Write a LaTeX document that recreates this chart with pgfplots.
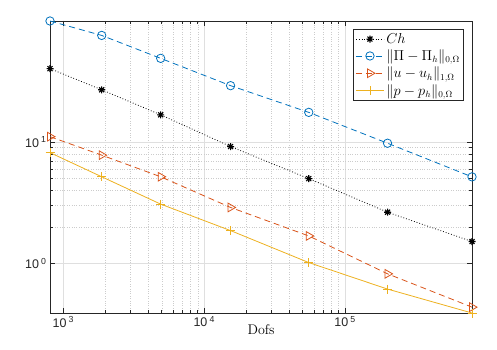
\documentclass[border=0pt]{standalone}
\usepackage{fontspec}
\usepackage{pgfplots}
\pgfplotsset{compat=1.18}
\newfontfamily\arial{Liberation Sans}

\definecolor{mblue}{rgb}{0,0.447,0.741}
\definecolor{mred}{rgb}{0.85,0.325,0.098}
\definecolor{myellow}{rgb}{0.929,0.694,0.125}
\definecolor{maxis}{rgb}{0.15,0.15,0.15}

% MATLAB-like '*' marker (plus and cross)
\pgfdeclareplotmark{mstar}{%
  \pgfpathmoveto{\pgfqpoint{-\pgfplotmarksize}{0pt}}\pgfpathlineto{\pgfqpoint{\pgfplotmarksize}{0pt}}%
  \pgfpathmoveto{\pgfqpoint{0pt}{-\pgfplotmarksize}}\pgfpathlineto{\pgfqpoint{0pt}{\pgfplotmarksize}}%
  \pgfpathmoveto{\pgfqpoint{-.707\pgfplotmarksize}{-.707\pgfplotmarksize}}\pgfpathlineto{\pgfqpoint{.707\pgfplotmarksize}{.707\pgfplotmarksize}}%
  \pgfpathmoveto{\pgfqpoint{-.707\pgfplotmarksize}{.707\pgfplotmarksize}}\pgfpathlineto{\pgfqpoint{.707\pgfplotmarksize}{-.707\pgfplotmarksize}}%
  \pgfusepathqstroke}

\begin{document}
\begin{tikzpicture}
\path[use as bounding box] (-50pt,-36pt) rectangle (447pt,313pt);
\begin{axis}[
    scale only axis,
    width=422pt, height=292pt,
    xmode=log, ymode=log,
    xmin=805, xmax=7.95e5,
    ymin=0.392, ymax=99.5,
    xtick={1000,10000,100000},
    xticklabels={{\arial 10\,\textsuperscript{3}},{\arial 10\,\textsuperscript{4}},{\arial 10\,\textsuperscript{5}}},
    ytick={1,10},
    yticklabels={{\arial 10\,\textsuperscript{0}},{\arial 10\,\textsuperscript{1}}},
    tick label style={font=\fontsize{12.5}{14}\selectfont, text=maxis},
    xlabel={Dofs},
    xlabel style={font=\fontsize{14}{16}\selectfont, at={(axis description cs:0.5,0)}, anchor=north, yshift=-8pt},
    grid=both,
    major grid style={gray!25, line width=0.6pt},
    minor grid style={gray!40, dotted, line width=0.5pt},
    axis line style={maxis, line width=0.8pt},
    tick style={maxis, line width=0.6pt},
    major tick length=5pt, minor tick length=3pt,
    tick align=inside,
    legend style={at={(axis cs:7.95e5,99.5)}, anchor=north east, xshift=-8pt, yshift=-8pt,
        draw=maxis, line width=0.6pt, font=\fontsize{13.5}{15}\selectfont,
        row sep=1pt, inner sep=2pt, cells={anchor=west}},
    legend cell align=left,
    legend image code/.code={%
        \draw[mark repeat=2, mark phase=2] plot coordinates {(0pt,0pt) (14pt,0pt) (28pt,0pt)};},
]
\addplot[black, dotted, line width=0.8pt, mark=mstar, mark size=3.5pt,
    mark options={solid, line width=1.1pt}] coordinates {
    (805,40.3) (1873,27.0) (4910,16.8) (15390,9.2) (55200,5.01) (2.0e5,2.65) (7.95e5,1.52)
};
\addlegendentry{$Ch$}
\addplot[mblue, dashed, dash pattern=on 6pt off 4pt, line width=0.8pt, mark=o, mark size=4.2pt,
    mark options={solid}] coordinates {
    (805,99.5) (1873,75.7) (4910,49.0) (15390,29.2) (55200,17.6) (2.0e5,9.8) (7.95e5,5.18)
};
\addlegendentry{$\|\Pi-\Pi_h\|_{0,\Omega}$}
\addplot[mred, dashed, dash pattern=on 6pt off 4pt, line width=0.8pt, mark=triangle, mark size=5pt,
    mark options={solid, rotate=-90}] coordinates {
    (805,11.1) (1873,7.82) (4910,5.19) (15390,2.90) (55200,1.69) (2.0e5,0.824) (7.95e5,0.438)
};
\addlegendentry{$\|u-u_h\|_{1,\Omega}$}
\addplot[myellow, solid, line width=0.8pt, mark=+, mark size=4.5pt] coordinates {
    (805,8.2) (1873,5.19) (4910,3.09) (15390,1.87) (55200,1.02) (2.0e5,0.617) (7.95e5,0.392)
};
\addlegendentry{$\|p-p_h\|_{0,\Omega}$}
\end{axis}
\end{tikzpicture}
\end{document}
